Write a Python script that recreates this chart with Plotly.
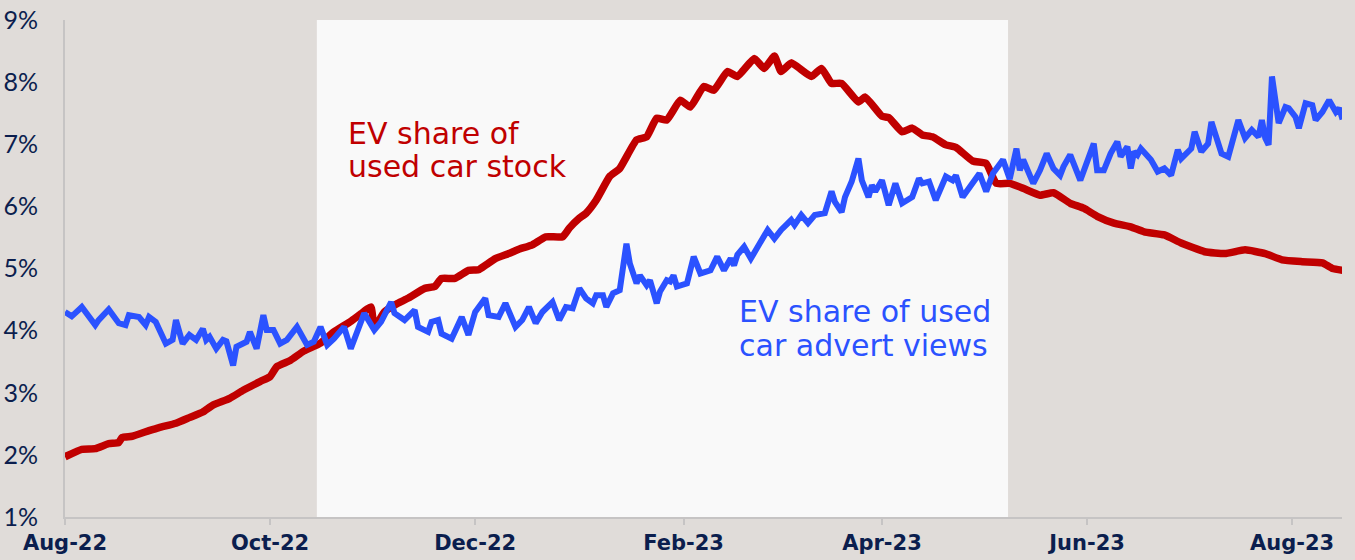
import plotly.graph_objects as go

# ---------------- data ----------------
stock_dates = [
    "2022-08-01", "2022-08-06", "2022-08-10", "2022-08-14", "2022-08-17", "2022-08-18",
    "2022-08-21", "2022-08-26", "2022-08-29", "2022-09-03", "2022-09-07", "2022-09-11",
    "2022-09-14", "2022-09-19", "2022-09-23", "2022-09-28", "2022-10-01", "2022-10-03",
    "2022-10-07", "2022-10-11", "2022-10-16", "2022-10-20", "2022-10-25", "2022-10-28",
    "2022-10-31", "2022-11-01", "2022-11-04", "2022-11-08", "2022-11-11", "2022-11-16",
    "2022-11-19", "2022-11-21", "2022-11-25", "2022-11-29", "2022-12-02", "2022-12-04",
    "2022-12-07", "2022-12-11", "2022-12-14", "2022-12-18", "2022-12-22", "2022-12-27",
    "2022-12-29", "2023-01-01", "2023-01-03", "2023-01-06", "2023-01-10", "2023-01-13",
    "2023-01-18", "2023-01-21", "2023-01-24", "2023-01-27", "2023-01-31", "2023-02-03",
    "2023-02-07", "2023-02-10", "2023-02-14", "2023-02-17", "2023-02-22", "2023-02-25",
    "2023-02-28", "2023-03-02", "2023-03-05", "2023-03-11", "2023-03-14", "2023-03-17",
    "2023-03-20", "2023-03-25", "2023-03-27", "2023-04-01", "2023-04-03", "2023-04-07",
    "2023-04-10", "2023-04-13", "2023-04-16", "2023-04-20", "2023-04-23", "2023-04-28",
    "2023-05-02", "2023-05-05", "2023-05-09", "2023-05-13", "2023-05-18", "2023-05-22",
    "2023-05-27", "2023-05-31", "2023-06-04", "2023-06-09", "2023-06-14", "2023-06-18",
    "2023-06-24", "2023-06-29", "2023-07-06", "2023-07-12", "2023-07-18", "2023-07-24",
    "2023-07-29", "2023-08-04", "2023-08-10", "2023-08-13", "2023-08-16",
]
stock_share = [
    1.97, 2.09, 2.10, 2.18, 2.20, 2.28,
    2.30, 2.39, 2.44, 2.51, 2.60, 2.69,
    2.80, 2.91, 3.04, 3.18, 3.26, 3.42,
    3.52, 3.67, 3.80, 3.98, 4.15, 4.27,
    4.38, 4.05, 4.30, 4.44, 4.52, 4.68,
    4.71, 4.84, 4.84, 4.97, 4.98, 5.05,
    5.16, 5.24, 5.31, 5.38, 5.51, 5.51,
    5.65, 5.81, 5.89, 6.10, 6.48, 6.61,
    7.07, 7.12, 7.42, 7.39, 7.71, 7.60,
    7.93, 7.87, 8.17, 8.09, 8.38, 8.22,
    8.42, 8.17, 8.31, 8.09, 8.22, 7.98,
    7.98, 7.68, 7.76, 7.45, 7.43, 7.20,
    7.26, 7.15, 7.12, 6.99, 6.95, 6.73,
    6.69, 6.37, 6.37, 6.29, 6.18, 6.22,
    6.05, 5.97, 5.84, 5.73, 5.67, 5.59,
    5.54, 5.41, 5.27, 5.24, 5.30, 5.24,
    5.14, 5.11, 5.09, 5.00, 4.97,
]

views_dates = [
    "2022-08-01", "2022-08-03", "2022-08-06", "2022-08-10", "2022-08-11", "2022-08-14",
    "2022-08-17", "2022-08-19", "2022-08-20", "2022-08-23", "2022-08-25", "2022-08-26",
    "2022-08-28", "2022-08-31", "2022-09-02", "2022-09-03", "2022-09-05", "2022-09-07",
    "2022-09-09", "2022-09-11", "2022-09-12", "2022-09-13", "2022-09-15", "2022-09-17",
    "2022-09-18", "2022-09-20", "2022-09-21", "2022-09-24", "2022-09-25", "2022-09-27",
    "2022-09-29", "2022-09-30", "2022-10-02", "2022-10-04", "2022-10-06", "2022-10-09",
    "2022-10-12", "2022-10-14", "2022-10-16", "2022-10-18", "2022-10-20", "2022-10-23",
    "2022-10-25", "2022-10-27", "2022-10-29", "2022-11-01", "2022-11-03", "2022-11-06",
    "2022-11-07", "2022-11-10", "2022-11-13", "2022-11-14", "2022-11-17", "2022-11-18",
    "2022-11-20", "2022-11-21", "2022-11-24", "2022-11-27", "2022-11-29", "2022-12-01",
    "2022-12-04", "2022-12-05", "2022-12-08", "2022-12-10", "2022-12-13", "2022-12-15",
    "2022-12-17", "2022-12-19", "2022-12-21", "2022-12-24", "2022-12-26", "2022-12-28",
    "2022-12-30", "2023-01-01", "2023-01-03", "2023-01-05", "2023-01-06", "2023-01-08",
    "2023-01-09", "2023-01-11", "2023-01-13", "2023-01-15", "2023-01-16", "2023-01-18",
    "2023-01-19", "2023-01-21", "2023-01-22", "2023-01-24", "2023-01-25", "2023-01-27",
    "2023-01-28", "2023-01-29", "2023-01-30", "2023-02-02", "2023-02-04", "2023-02-06",
    "2023-02-09", "2023-02-11", "2023-02-13", "2023-02-15", "2023-02-16", "2023-02-17",
    "2023-02-19", "2023-02-21", "2023-02-24", "2023-02-26", "2023-02-28", "2023-03-02",
    "2023-03-05", "2023-03-06", "2023-03-08", "2023-03-10", "2023-03-12", "2023-03-15",
    "2023-03-17", "2023-03-18", "2023-03-20", "2023-03-21", "2023-03-23", "2023-03-25",
    "2023-03-26", "2023-03-28", "2023-03-29", "2023-03-30", "2023-04-01", "2023-04-03",
    "2023-04-05", "2023-04-07", "2023-04-10", "2023-04-12", "2023-04-13", "2023-04-15",
    "2023-04-17", "2023-04-20", "2023-04-22", "2023-04-23", "2023-04-25", "2023-04-28",
    "2023-04-30", "2023-05-02", "2023-05-04", "2023-05-07", "2023-05-09", "2023-05-11",
    "2023-05-12", "2023-05-13", "2023-05-16", "2023-05-18", "2023-05-20", "2023-05-22",
    "2023-05-24", "2023-05-25", "2023-05-27", "2023-05-30", "2023-06-03", "2023-06-04",
    "2023-06-06", "2023-06-08", "2023-06-10", "2023-06-11", "2023-06-13", "2023-06-14",
    "2023-06-15", "2023-06-16", "2023-06-17", "2023-06-20", "2023-06-22", "2023-06-24",
    "2023-06-26", "2023-06-28", "2023-06-29", "2023-07-02", "2023-07-03", "2023-07-05",
    "2023-07-07", "2023-07-08", "2023-07-11", "2023-07-13", "2023-07-16", "2023-07-18",
    "2023-07-20", "2023-07-22", "2023-07-23", "2023-07-24", "2023-07-25", "2023-07-26",
    "2023-07-28", "2023-07-30", "2023-07-31", "2023-08-02", "2023-08-03", "2023-08-05",
    "2023-08-07", "2023-08-08", "2023-08-10", "2023-08-12", "2023-08-14", "2023-08-15",
    "2023-08-16",
]
views_share = [
    4.30, 4.23, 4.38, 4.09, 4.17, 4.34,
    4.12, 4.09, 4.25, 4.22, 4.09, 4.22,
    4.14, 3.79, 3.85, 4.17, 3.79, 3.93,
    3.85, 4.03, 3.85, 3.90, 3.71, 3.85,
    3.83, 3.44, 3.74, 3.82, 3.98, 3.71,
    4.25, 4.01, 4.01, 3.79, 3.85, 4.06,
    3.77, 3.82, 4.06, 3.77, 3.87, 4.06,
    3.71, 3.98, 4.28, 4.01, 4.14, 4.46,
    4.28, 4.17, 4.33, 4.06, 3.98, 4.14,
    4.17, 3.95, 3.87, 4.22, 3.93, 4.30,
    4.52, 4.25, 4.22, 4.44, 4.06, 4.17,
    4.38, 4.12, 4.30, 4.46, 4.17, 4.38,
    4.36, 4.68, 4.52, 4.44, 4.57, 4.57,
    4.38, 4.60, 4.65, 5.40, 5.08, 4.76,
    4.89, 4.73, 4.81, 4.44, 4.63, 4.81,
    4.79, 4.89, 4.71, 4.76, 5.19, 4.92,
    4.97, 5.19, 4.97, 5.16, 5.05, 5.22,
    5.35, 5.16, 5.43, 5.62, 5.48, 5.62,
    5.78, 5.70, 5.86, 5.73, 5.86, 5.89,
    6.24, 6.07, 5.91, 6.15, 6.40, 6.77,
    6.42, 6.15, 6.34, 6.24, 6.42, 6.02,
    6.37, 6.05, 6.15, 6.45, 6.37, 6.40,
    6.10, 6.48, 6.42, 6.50, 6.15, 6.37,
    6.53, 6.24, 6.53, 6.75, 6.44, 6.93,
    6.58, 6.75, 6.37, 6.58, 6.85, 6.61,
    6.50, 6.64, 6.83, 6.42, 7.01, 6.58,
    6.58, 6.85, 7.04, 6.80, 6.96, 6.61,
    6.88, 6.83, 6.93, 6.75, 6.56, 6.61,
    6.50, 6.91, 6.77, 6.93, 7.20, 6.88,
    7.01, 7.36, 6.85, 6.80, 7.39, 7.10,
    7.23, 7.12, 7.39, 7.10, 6.99, 8.09,
    7.34, 7.60, 7.58, 7.44, 7.26, 7.66,
    7.63, 7.39, 7.52, 7.71, 7.52, 7.58,
    7.40,
]

tick_dates = ["2022-08-01", "2022-10-01", "2022-12-01", "2023-02-01",
              "2023-04-01", "2023-06-01", "2023-08-01"]
tick_labels = ["Aug-22", "Oct-22", "Dec-22", "Feb-23", "Apr-23", "Jun-23", "Aug-23"]

highlight_start = "2022-10-14 22:00"
highlight_end = "2023-05-08 12:00"

RED = "#C00000"
BLUE = "#2B52FF"
NAVY = "#0B1E4E"
BG = "#E0DCD9"
TICK_FONT = "Lato"
LABEL_FONT = "DejaVu Sans"

PLOT_L, PLOT_R, PLOT_T, PLOT_B = 65, 1342, 20, 517
FIG_W, FIG_H = 1355, 560
PW, PH = PLOT_R - PLOT_L, PLOT_B - PLOT_T

fig = go.Figure()

fig.add_shape(type="rect", xref="x", yref="paper",
              x0=highlight_start, x1=highlight_end, y0=0, y1=1,
              fillcolor="#F9F9F9", line_width=0, layer="below")

fig.add_trace(go.Scatter(x=stock_dates, y=stock_share, mode="lines",
                         line=dict(color=RED, width=7.5, shape="spline", smoothing=0.4),
                         name="EV share of used car stock"))
fig.add_trace(go.Scatter(x=views_dates, y=views_share, mode="lines",
                         line=dict(color=BLUE, width=6),
                         name="EV share of used car advert views"))

red_lines = [("EV share of", 133), ("used car stock", 166)]
blue_lines = [("EV share of used", 311), ("car advert views", 345)]
for txt, ypx in red_lines:
    fig.add_annotation(x=(346 - PLOT_L) / PW, y=(PLOT_B - ypx) / PH, xref="paper", yref="paper",
                       xanchor="left", yanchor="middle", showarrow=False, text=txt,
                       font=dict(family=LABEL_FONT, size=30, color=RED))
for txt, ypx in blue_lines:
    fig.add_annotation(x=(737 - PLOT_L) / PW, y=(PLOT_B - ypx) / PH, xref="paper", yref="paper",
                       xanchor="left", yanchor="middle", showarrow=False, text=txt,
                       font=dict(family=LABEL_FONT, size=30, color=BLUE))

fig.update_layout(
    width=FIG_W, height=FIG_H,
    margin=dict(l=PLOT_L, r=FIG_W - PLOT_R, t=PLOT_T, b=FIG_H - PLOT_B),
    paper_bgcolor=BG, plot_bgcolor=BG,
    showlegend=False,
    font=dict(family=TICK_FONT, color=NAVY),
    xaxis=dict(
        range=["2022-08-01", "2023-08-15 20:00"],
        tickvals=tick_dates, ticktext=tick_labels,
        tickfont=dict(family="DejaVu Sans", size=21, color=NAVY, weight="bold"),
        showgrid=False, zeroline=False, automargin=False, ticklabeloverflow="allow",
        showline=True, linecolor="#C6C4C4", linewidth=2,
        ticks="outside", ticklen=6, tickwidth=2, tickcolor="#C6C4C4",
    ),
    yaxis=dict(
        range=[1, 9], dtick=1, tick0=1, ticksuffix="%",
        tickfont=dict(family=TICK_FONT, size=25, color=NAVY),
        showgrid=False, zeroline=False, automargin=False, ticklabeloverflow="allow",
        showline=True, linecolor="#C6C4C4", linewidth=2,
        ticks="", ticklabelstandoff=20,
    ),
)

fig.write_html("out.html",
               config={"displayModeBar": False},
               post_script="document.body.style.margin='0';document.body.style.overflow='hidden';")
